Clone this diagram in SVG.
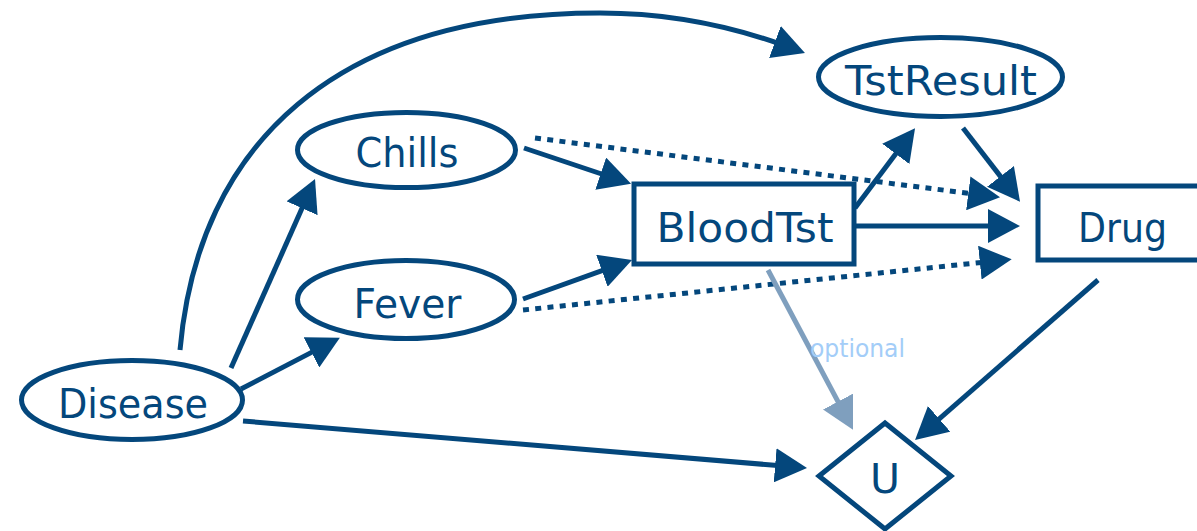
<svg xmlns="http://www.w3.org/2000/svg" width="1197" height="531" viewBox="0 0 1197 531">
  <style>
    .node { fill: #ffffff; stroke: #04477c; stroke-width: 5; }
    .lbl { font-family: "Comic Sans MS", "DejaVu Sans", sans-serif; font-size: 41px; fill: #04477c; text-anchor: middle; }
    .edge { fill: none; stroke: #04477c; stroke-width: 5; }
    .dot { stroke-dasharray: 6 6.3; }
    .light { fill: none; stroke: #7f9fbe; stroke-width: 5; }
    .opt { font-family: "Comic Sans MS", "DejaVu Sans", sans-serif; font-size: 24px; fill: #a3cdf8; text-anchor: middle; }
  </style>
  <defs>
    <marker id="ah" viewBox="0 0 32 34" refX="12" refY="17" markerWidth="32" markerHeight="34" markerUnits="userSpaceOnUse" orient="auto">
      <path d="M0,0 L32,17 L0,34 z" fill="#04477c"/>
    </marker>
    <marker id="ahl" viewBox="0 0 32 34" refX="12" refY="17" markerWidth="32" markerHeight="34" markerUnits="userSpaceOnUse" orient="auto">
      <path d="M0,0 L32,17 L0,34 z" fill="#7f9fbe"/>
    </marker>
  </defs>
  <g id="connectors">
    <path class="edge" d="M180,350 C198,145 335,13 600,13 C665,13 729.6,25.5 786.2,46.2" marker-end="url(#ah)"/>
    <line class="edge" x1="231" y1="368" x2="306.9" y2="197.3" marker-end="url(#ah)"/>
    <line class="edge" x1="241" y1="389" x2="322.1" y2="346.9" marker-end="url(#ah)"/>
    <line class="edge" x1="243" y1="421" x2="787.1" y2="466.3" marker-end="url(#ah)"/>
    <line class="edge" x1="524" y1="148" x2="612.1" y2="177.5" marker-end="url(#ah)"/>
    <line class="edge" x1="523" y1="299" x2="613.2" y2="266.7" marker-end="url(#ah)"/>
    <line class="edge dot" x1="535" y1="138" x2="980.2" y2="194.8" marker-end="url(#ah)"/>
    <line class="edge dot" x1="523" y1="310" x2="991.8" y2="261.4" marker-end="url(#ah)"/>
    <line class="edge" x1="856" y1="226" x2="1000" y2="226" marker-end="url(#ah)"/>
    <line class="edge" x1="855" y1="208" x2="903" y2="144.3" marker-end="url(#ah)"/>
    <line class="edge" x1="963" y1="128" x2="1007.8" y2="185.9" marker-end="url(#ah)"/>
    <line class="edge" x1="1098" y1="280" x2="930.1" y2="426.8" marker-end="url(#ah)"/>
    <line class="light" x1="768" y1="270" x2="843.6" y2="412.2" marker-end="url(#ahl)"/>
    <text class="opt" x="857.5" y="357" textLength="95" lengthAdjust="spacingAndGlyphs">optional</text>
  </g>
  <g id="disease">
    <ellipse class="node" cx="132" cy="400" rx="110.5" ry="39.5"/>
    <text class="lbl" x="133" y="418" textLength="150" lengthAdjust="spacingAndGlyphs">Disease</text>
  </g>
  <g id="chills">
    <ellipse class="node" cx="406.5" cy="150" rx="109" ry="37.5"/>
    <text class="lbl" x="407" y="167" textLength="103" lengthAdjust="spacingAndGlyphs">Chills</text>
  </g>
  <g id="fever">
    <ellipse class="node" cx="406" cy="299.5" rx="108.5" ry="39"/>
    <text class="lbl" x="407.5" y="318" textLength="108" lengthAdjust="spacingAndGlyphs">Fever</text>
  </g>
  <g id="tstresult">
    <ellipse class="node" cx="940.5" cy="77" rx="122" ry="39.5"/>
    <text class="lbl" x="941" y="95" textLength="192" lengthAdjust="spacingAndGlyphs">TstResult</text>
  </g>
  <g id="bloodtst">
    <rect class="node" x="634" y="184" width="220" height="80"/>
    <text class="lbl" x="745" y="242" textLength="177" lengthAdjust="spacingAndGlyphs">BloodTst</text>
  </g>
  <g id="drug">
    <rect class="node" x="1038" y="186" width="170" height="74"/>
    <text class="lbl" x="1122.5" y="242" textLength="89" lengthAdjust="spacingAndGlyphs">Drug</text>
  </g>
  <g id="u">
    <polygon class="node" points="885,423 951,476 885,529 819,476"/>
    <text class="lbl" x="885" y="493">U</text>
  </g>
</svg>
